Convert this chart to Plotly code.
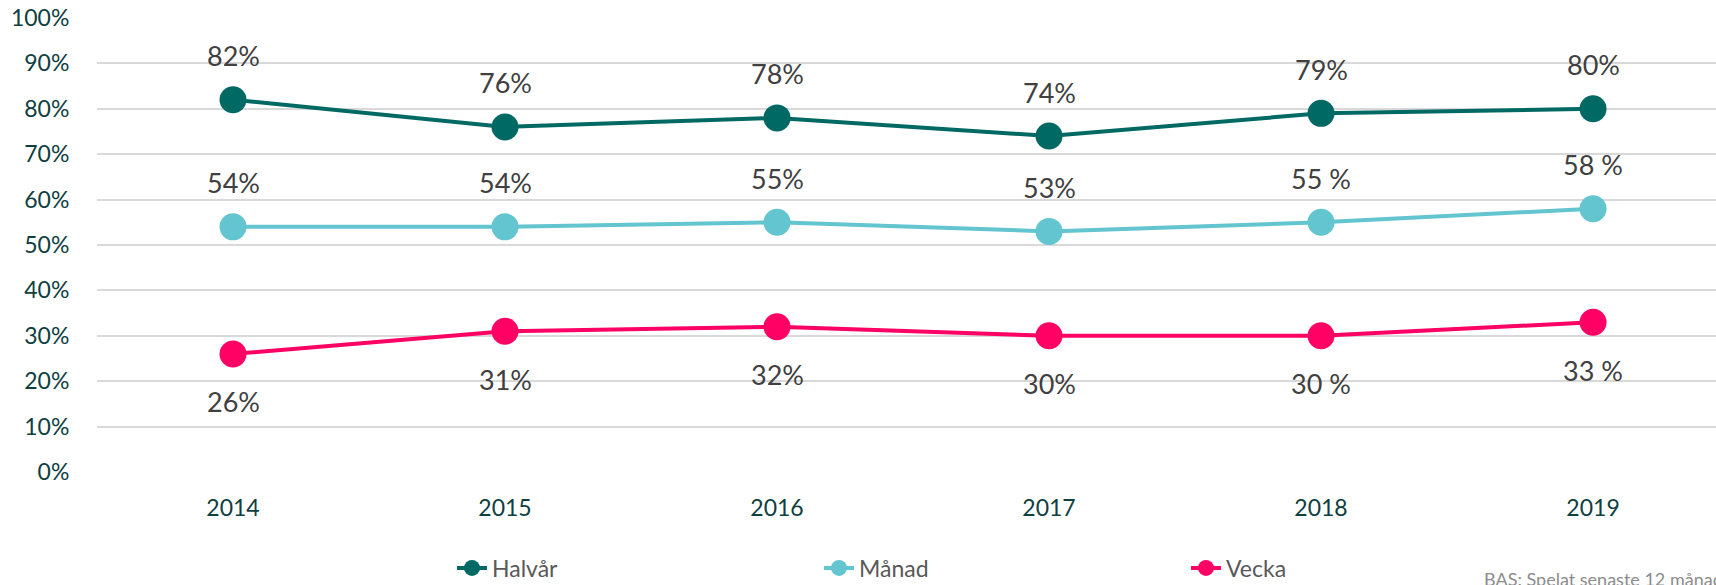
import plotly.graph_objects as go

years = ["2014", "2015", "2016", "2017", "2018", "2019"]
halvar = [0.82, 0.76, 0.78, 0.74, 0.79, 0.80]
manad = [0.54, 0.54, 0.55, 0.53, 0.55, 0.58]
vecka = [0.26, 0.31, 0.32, 0.30, 0.30, 0.33]
halvar_labels = ["82%", "76%", "78%", "74%", "79%", "80%"]
manad_labels = ["54%", "54%", "55%", "53%", "55 %", "58 %"]
vecka_labels = ["26%", "31%", "32%", "30%", "30 %", "33 %"]
y_ticks = [i / 10 for i in range(11)]
y_tick_text = [f"{i*10}%" for i in range(11)]

series = [
    ("Halvår", halvar, halvar_labels, "#006963", 44),
    ("Månad", manad, manad_labels, "#62C5CF", 44),
    ("Vecka", vecka, vecka_labels, "#FF0064", -48),
]

FONT = "Lato"
fig = go.Figure()
annotations = []
for name, vals, labels, color, shift in series:
    fig.add_trace(go.Scatter(
        x=years, y=vals, name=name, mode="lines+markers",
        line=dict(color=color, width=4),
        marker=dict(color=color, size=27),
    ))
    for i, (y, t) in enumerate(zip(vals, labels)):
        annotations.append(dict(
            x=i, y=y, xref="x", yref="y", text=t, showarrow=False,
            yshift=shift, yanchor="middle",
            font=dict(family=FONT, size=27, color="#404040"),
        ))

annotations.append(dict(
    x=(1482 - 97) / 1619, y=-(566 - 472) / 454, xref="paper", yref="paper",
    xanchor="left", yanchor="top", showarrow=False,
    text="BAS: Spelat senaste 12 månaderna",
    font=dict(family=FONT, size=18, color="#8C8C8C"),
))

fig.update_layout(
    width=1716, height=585,
    margin=dict(l=97, r=0, t=18, b=113, autoexpand=False),
    paper_bgcolor="white", plot_bgcolor="white",
    annotations=annotations,
    showlegend=True,
    legend=dict(
        orientation="h", x=(452 - 97) / 1619, xanchor="left",
        y=-(568 - 472) / 454, yanchor="middle",
        entrywidth=322, entrywidthmode="pixels",
        font=dict(family=FONT, size=23, color="#595959"),
        itemsizing="trace",
    ),
    xaxis=dict(
        type="category", range=[-0.5, 5.452],
        showgrid=False, zeroline=False, showline=False,
        tickfont=dict(family=FONT, size=23, color="#0E4040"),
        ticks="outside", ticklen=15, tickcolor="rgba(0,0,0,0)",
    ),
    yaxis=dict(
        range=[0, 1], tickvals=y_ticks, ticktext=y_tick_text,
        showgrid=True, gridcolor="#D9D9D9", gridwidth=1.5,
        zeroline=False, showline=False,
        tickfont=dict(family=FONT, size=23, color="#0E4040"),
        ticks="outside", ticklen=22, tickcolor="rgba(0,0,0,0)",
    ),
)

fig.write_html(
    "out.html",
    config={"displayModeBar": False},
    post_script="document.body.style.margin='0px';document.body.style.overflow='hidden';",
)
